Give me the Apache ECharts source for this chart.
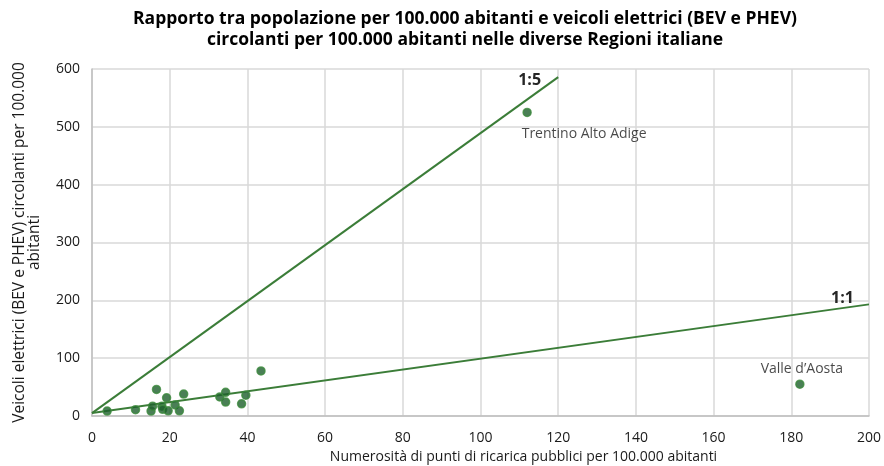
<!DOCTYPE html>
<html>
<head>
<meta charset="utf-8">
<script src="https://cdn.jsdelivr.net/npm/echarts@6/dist/echarts.min.js"></script>
<style>
html,body{margin:0;padding:0;background:#fff;}
#c{width:884px;height:466px;}
</style>
</head>
<body>
<div id="c"></div>
<script>
// Regional data: [charging points per 100k, EV per 100k]
const pointsX = [3.9, 11.2, 15.2, 15.6, 16.6, 18.0, 18.2, 19.2, 19.6, 21.4, 22.5, 23.6, 32.9, 34.4, 34.4, 38.5, 39.6, 43.5, 112, 182.2];
const pointsY = [8.6, 10.9, 8.5, 17, 46, 17, 11.6, 31.5, 9, 19, 9, 38, 33, 41, 24, 21, 36, 78, 525, 55];
const pointNames = ["", "", "", "", "", "", "", "", "", "", "", "", "", "", "", "", "", "", "Trentino Alto Adige", "Valle d\u2019Aosta"];
// Reference lines
const line15X = [0, 120];
const line15Y = [5, 586];
const line11X = [0, 200];
const line11Y = [5, 193];
const xTicks = [0, 20, 40, 60, 80, 100, 120, 140, 160, 180, 200];
const yTicks = [0, 100, 200, 300, 400, 500, 600];

const FONT = '"Open Sans", "Noto Sans", sans-serif';
const scatterData = pointsX.map((x, i) => {
  const d = { value: [x, pointsY[i]], name: pointNames[i] };
  if (pointNames[i]) {
    d.label = {
      show: true,
      formatter: pointNames[i],
      position: i === 18 ? 'bottom' : 'top',
      distance: i === 18 ? 10 : 3,
      offset: i === 18 ? [57, 0] : [2, 0],
      color: '#1a1a1a',
      fontSize: 14,
      fontFamily: FONT
    };
  }
  return d;
});

const chart = echarts.init(document.getElementById('c'));
chart.setOption({
  animation: false,
  backgroundColor: '#ffffff',
  title: {
    text: 'Rapporto tra popolazione per 100.000 abitanti e veicoli elettrici (BEV e PHEV)\ncircolanti per 100.000 abitanti nelle diverse Regioni italiane',
    left: 460,
    top: 4,
    textAlign: 'center',
    textStyle: { fontFamily: FONT, fontSize: 17.5, fontWeight: 'bold', color: '#000', lineHeight: 21 }
  },
  grid: { left: 92, right: 15, top: 69, bottom: 50, containLabel: false, outerBoundsMode: 'none' },
  xAxis: {
    type: 'value',
    min: xTicks[0], max: xTicks[xTicks.length - 1], interval: 20,
    name: 'Numerosità di punti di ricarica pubblici per 100.000 abitanti',
    nameLocation: 'middle',
    nameGap: 33,
    nameTextStyle: { fontFamily: FONT, fontSize: 14, color: '#1a1a1a', padding: [0, 0, 0, 86] },
    axisLine: { lineStyle: { color: '#bfbfbf', width: 1.5 } },
    axisTick: { show: false },
    axisLabel: { fontFamily: FONT, fontSize: 14, color: '#1a1a1a', margin: 15 },
    splitLine: { lineStyle: { color: '#d9d9d9', width: 1.5 } }
  },
  yAxis: {
    type: 'value',
    min: yTicks[0], max: yTicks[yTicks.length - 1], interval: 100,
    name: 'Veicoli elettrici (BEV e PHEV) circolanti per 100.000\nabitanti',
    nameLocation: 'middle',
    nameGap: 50,
    nameTextStyle: { fontFamily: FONT, fontSize: 15.5, color: '#1a1a1a', lineHeight: 15 },
    axisLine: { show: true, lineStyle: { color: '#bfbfbf', width: 1.5 } },
    axisTick: { show: false },
    axisLabel: { fontFamily: FONT, fontSize: 14, color: '#1a1a1a', margin: 12 },
    splitLine: { lineStyle: { color: '#d9d9d9', width: 1.5 } }
  },
  series: [
    {
      type: 'line',
      data: line15X.map((x, i) => [x, line15Y[i]]),
      showSymbol: false,
      lineStyle: { color: '#3b7d38', width: 2 },
      silent: true,
      endLabel: {
        show: true, formatter: '1:5', fontFamily: FONT, fontSize: 16, fontWeight: 'bold',
        color: '#262626', offset: [-48, 3]
      }
    },
    {
      type: 'line',
      data: line11X.map((x, i) => [x, line11Y[i]]),
      showSymbol: false,
      lineStyle: { color: '#3b7d38', width: 2 },
      silent: true,
      endLabel: {
        show: true, formatter: '1:1', fontFamily: FONT, fontSize: 16, fontWeight: 'bold',
        color: '#262626', offset: [-46, -6]
      }
    },
    {
      type: 'scatter',
      data: scatterData,
      symbolSize: 8,
      itemStyle: { color: '#1d5f2c', borderColor: '#3d8b3d', borderWidth: 1.5 },
      z: 5
    }
  ]
});
</script>
</body>
</html>
